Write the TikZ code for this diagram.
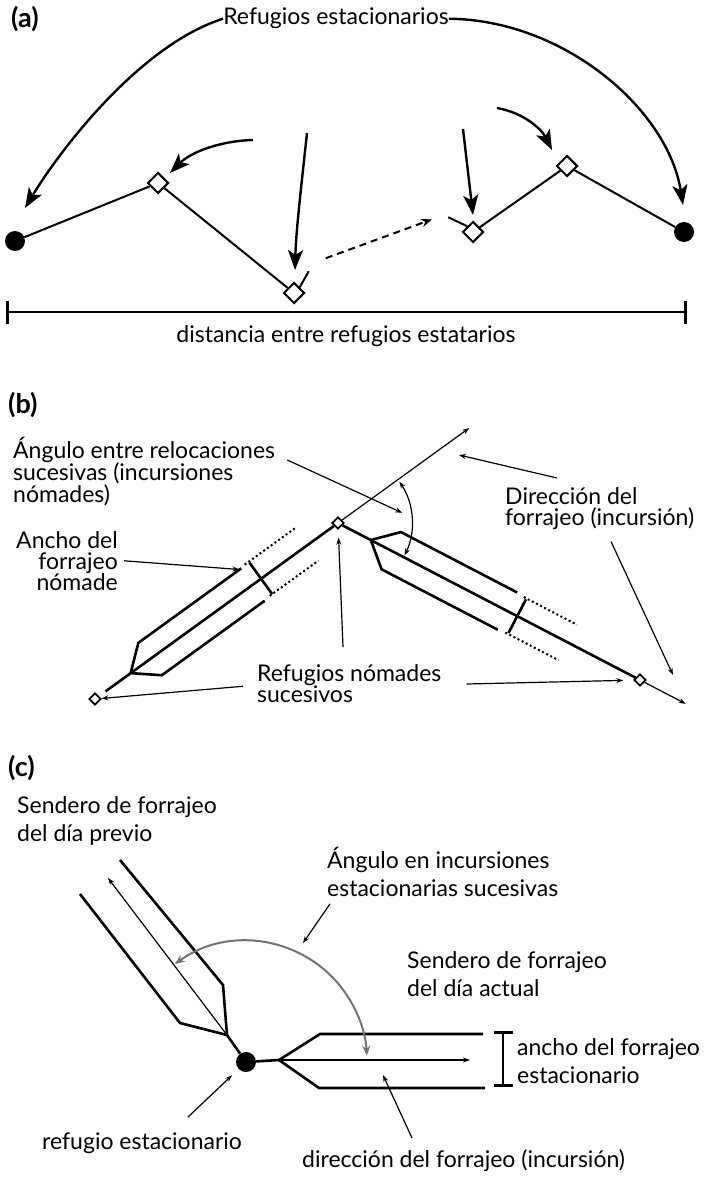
\documentclass[tikz,border=0pt]{standalone}
\usepackage{fontspec}
\setmainfont{Lato}
\lineskiplimit=-50pt
\usetikzlibrary{positioning}
\usetikzlibrary{calc}
\usetikzlibrary{shapes.geometric}
\usetikzlibrary{arrows.meta}
\tikzset{
    % Small tip used by all the thin pointers
    >={Stealth[length=7pt, width=5pt]},
%
    % Ordinary caption text
    caption/.style={font=\fontsize{23}{22}\selectfont, inner sep=0, align=left},
%
    % Bold tag in the corner of each panel
    panel tag/.style={font=\fontsize{27}{27}\selectfont\bfseries,
        inner sep=0, anchor=base west},
%
    % Stationary refuge
    refuge dot/.style={circle, fill=black, inner sep=0, minimum size=20pt},
%
    % Nomadic refuge, large and small
    shelter/.style={diamond, draw, fill=white, line width=2pt,
        inner sep=0, minimum size=21pt},
    small shelter/.style={shelter, line width=1.8pt, minimum size=12pt},
%
    % Lines between refuges and the big curved arrows
    route/.style={line width=2pt},
    heavy arrow/.style={line width=2.4pt,
        -{Stealth[length=20pt, width=15pt, inset=5pt]}},
    jump/.style={line width=2pt, dash pattern=on 7pt off 5pt,
        -{Stealth[length=11pt, width=8pt]}},
%
    % Foraging trails
    pointer/.style={line width=1.2pt, ->},
    trail/.style={line width=2.6pt},
    trail dots/.style={line width=2pt, dash pattern=on 2pt off 2.6pt},
    width bar/.style={line width=2.6pt, {Bar[width=#1]}-{Bar[width=#1]}},
    sweep/.style={line width=2pt, black!55,
        {Stealth[length=10pt, width=8pt]}-{Stealth[length=10pt, width=8pt]}}}

\begin{document}
\begin{tikzpicture}[x=1pt, y=-1pt]

\useasboundingbox (0,0) rectangle (707,1177);

% (a) stationary refuges at both ends, nomadic ones between

\node [panel tag] (tag a) at (11,28) {(a)};
\node [caption, anchor=base] (refugia) at (336,25) {Refugios estacionarios};

\node [refuge dot] (home left) at (15,241) {};
\node [shelter] (nomad 1) at (158,183) {};
\node [shelter] (nomad 2) at (294,293) {};
\node [shelter] (nomad 3) at (473,232) {};
\node [shelter] (nomad 4) at (567,166) {};
\node [refuge dot] (home right) at (684,232) {};

\draw [route] (home left) -- (nomad 1) -- (nomad 2);
\draw [route] (nomad 3) -- (nomad 4) -- (home right);
\draw [route] (nomad 2.north east) -- ++(9,-16) coordinate (leave 2);
\draw [route] (nomad 3.north west) -- ++(-19,-9) coordinate (reach 3);
\draw [jump] ($(leave 2)+(17,-13)$) -- ($(reach 3)+(-16,2)$);

\draw [heavy arrow] (refugia.west)
    .. controls (140,45) and (60,150) .. ($(home left)+(10,-33)$);
\draw [heavy arrow] (refugia.east)
    .. controls (565,20) and (668,110) .. ($(home right)+(-1,-27)$);

\coordinate (drop 1) at (253,140);
\coordinate (drop 2) at (307,133);
\coordinate (drop 3) at (463,129);
\coordinate (drop 4) at (497,108);
\draw [heavy arrow] (drop 1)
    .. controls (218,141) and (190,153) .. ($(nomad 1)+(12,-10)$);
\draw [heavy arrow] (drop 2)
    .. controls (302,180) and (296,230) .. ($(nomad 2)+(1,-23)$);
\draw [heavy arrow] (drop 3) -- ($(nomad 3)+(0,-17)$);
\draw [heavy arrow] (drop 4)
    .. controls (525,113) and (542,130) .. ($(nomad 4)+(-15,-16)$);

\coordinate (span left) at (6,312);
\coordinate (span right) at (687,312);
\draw [width bar=23pt] (span left) -- (span right);
\node [caption, anchor=base] (span text) at (346,342)
    {distancia entre refugios estatarios};

% (b) successive nomadic incursions

\node [panel tag] (tag b) at (8,413) {(b)};

\node [small shelter] (shelter prev) at (95,699) {};
\node [small shelter] (shelter mid) at (338,523) {};
\node [small shelter] (shelter next) at (640,680) {};

\draw [trail, shorten >=8pt] (shelter mid) -- (shelter prev);
\draw [trail] (shelter mid) -- (shelter next);

\begin{scope}[shift={(shelter mid)}, rotate=-144.1]
    \draw [trail] (105,20) -- (232,20) -- (256,0) -- (232,-20) -- (105,-20);
    \draw [trail] (95,20) -- (95,-19);
    \draw [trail dots] (100,21) -- (38,21);
    \draw [trail dots] (98,-19) -- (38,-19);
    \coordinate (edge end) at (107,20);
    \coordinate (ahead) at (-162,0);
\end{scope}

\begin{scope}[shift={(shelter mid)}, rotate=-27.47]
    \draw [trail] (191,-21) -- (60,-21) -- (37,0) -- (60,21) -- (191,21);
    \draw [trail] (202,-19) -- (202,19);
    \draw [trail dots] (199,-20) -- (259,-20);
    \draw [trail dots] (199,20) -- (259,20);
    \coordinate (onward) at (392,0);
\end{scope}

\draw [pointer] (shelter mid) -- (ahead);
\draw [pointer] (shelter next) -- (onward);
\draw [line width=1.2pt, <->] ($(shelter mid)+(-34:74)$)
    arc [start angle=-34, end angle=26, radius=74];

\node [caption, anchor=north west] (angle text) at (13,437)
    {Ángulo entre relocaciones\\sucesivas (incursiones\\nómades)};
\node [caption, anchor=north east, align=right,
    font=\fontsize{23}{21}\selectfont] (width text) at (118,531)
    {Ancho del\\forrajeo\\nómade};
\node [caption, anchor=north west,
    font=\fontsize{23}{21}\selectfont] (heading text) at (505,487)
    {Dirección del\\forrajeo (incursión)};
\node [caption, anchor=north west,
    font=\fontsize{23}{21}\selectfont] (nomad text) at (257,664)
    {Refugios nómades\\sucesivos};

\coordinate (angle mark) at ($(shelter mid)+(-9:65)$);
\coordinate (heading mark) at (459,455);
\coordinate (onward mark) at (673,675);
\coordinate (shelter call) at (343,647);

\draw [pointer] ($(angle text.north east)+(12,23)$) -- (angle mark);
\draw [pointer] ($(width text.east)+(6,0)$) -- (edge end);
\draw [pointer] ($(heading text.north west)+(52,-9)$) -- (heading mark);
\draw [pointer] ($(heading text.south west)+(106,12)$) -- (onward mark);
\draw [pointer, shorten >=8pt] (shelter call) -- (shelter mid);
\draw [pointer] ($(nomad text.west)+(-14,3)$) -- (shelter prev);
\draw [pointer, shorten >=10pt] ($(nomad text.north east)+(25,20)$)
    -- (shelter next);

% (c) successive stationary incursions

\node [panel tag] (tag c) at (8,776) {(c)};

\node [refuge dot] (base camp) at (246,1062) {};
\coordinate (fork old) at (227,1035);
\coordinate (fork new) at (279,1060);

\draw [trail] (base camp) -- (fork old);
\draw [trail] (80,894) -- (180,1023) -- (fork old) -- (223,985) -- (120,860);
\draw [pointer] (fork old) -- (108,878);

\draw [trail] (base camp) -- (fork new);
\draw [trail] (483,1034) -- (320,1034) -- (fork new) -- (319,1088) -- (485,1088);
\draw [pointer] (fork new) -- (470,1060);

\draw [width bar=19pt] (503,1031) -- (503,1087);
\draw [sweep] ($(base camp)+(-126:121)$)
    arc [start angle=-126, end angle=-3, radius=121];

\node [caption, anchor=north west,
    font=\fontsize{23}{28}\selectfont] (old path text) at (17,796)
    {Sendero de forrajeo\\del día previo};
\node [caption, anchor=north west,
    font=\fontsize{23}{28}\selectfont] (sweep text) at (327,847)
    {Ángulo en incursiones\\estacionarias sucesivas};
\node [caption, anchor=north west,
    font=\fontsize{23}{28}\selectfont] (new path text) at (407,951)
    {Sendero de forrajeo\\del día actual};
\node [caption, anchor=north west,
    font=\fontsize{23}{28}\selectfont] (band text) at (517,1038)
    {ancho del forrajeo\\estacionario};
\node [caption, anchor=base west] (camp text) at (42,1149)
    {refugio estacionario};
\node [caption, anchor=base west] (course text) at (302,1167)
    {dirección del forrajeo (incursión)};

\coordinate (sweep mark) at (303,943);
\coordinate (course mark) at (383,1075);

\draw [pointer] ($(sweep text.south west)+(3,7)$) -- (sweep mark);
\draw [pointer, shorten >=9pt] ($(camp text.north west)+(146,-15)$)
    -- (base camp);
\draw [pointer] ($(course text.north west)+(110,-11)$) -- (course mark);

\end{tikzpicture}
\end{document}
